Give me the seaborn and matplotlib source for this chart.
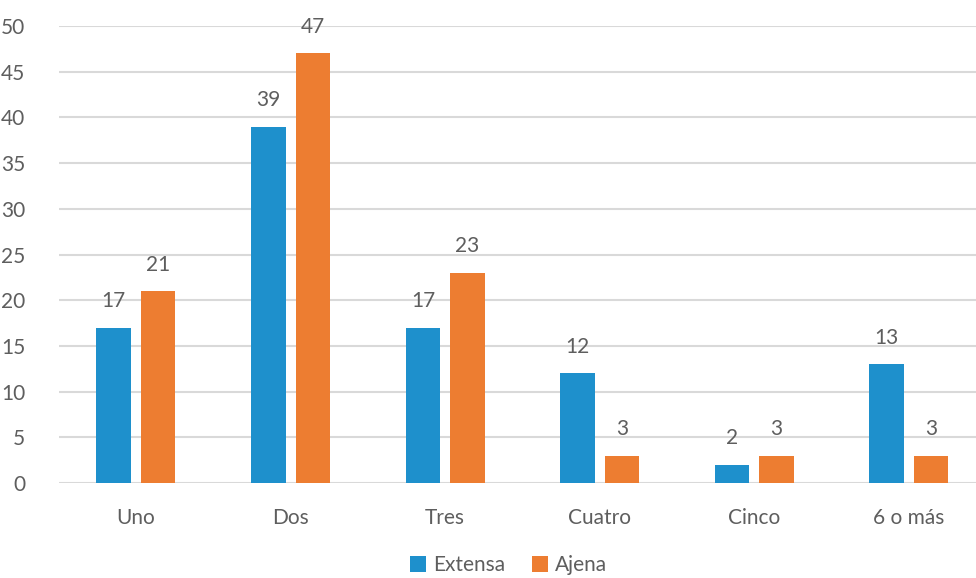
import matplotlib
matplotlib.use("Agg")
import matplotlib.pyplot as plt
import seaborn as sns
import pandas as pd
from matplotlib.lines import Line2D

categories = ["Uno", "Dos", "Tres", "Cuatro", "Cinco", "6 o más"]
extensa = [17, 39, 17, 12, 2, 13]
ajena = [21, 47, 23, 3, 3, 3]
series_names = ["Extensa", "Ajena"]
colors = ["#1E90CC", "#ED7D31"]
yticks = [0, 5, 10, 15, 20, 25, 30, 35, 40, 45, 50]

df = pd.DataFrame({
    "cat": categories * 2,
    "val": extensa + ajena,
    "serie": [series_names[0]] * len(categories) + [series_names[1]] * len(categories),
})

sns.set_theme(style="white")
plt.rcParams["font.family"] = ["Lato", "DejaVu Sans"]
txt = "#5E5E5E"

fig = plt.figure(figsize=(9.76, 5.78), dpi=100)
ax = fig.add_axes([0.0601, 0.164, 0.9504, 0.791])

sns.barplot(data=df, x="cat", y="val", hue="serie", order=categories,
            hue_order=series_names, palette=colors, width=0.576, gap=0.225,
            linewidth=0, saturation=1, ax=ax, legend=False)

ax.set_ylim(0, 50)
ax.set_yticks(yticks)
ax.set_xlim(-0.5, len(categories) - 0.5)
ax.yaxis.grid(True, color="#D9D9D9", linewidth=1.5)
ax.set_axisbelow(True)
for s in ax.spines.values():
    s.set_visible(False)
ax.tick_params(axis="both", length=0, labelsize=15, colors=txt, pad=18)
ax.tick_params(axis="y", pad=24)
ax.set_xlabel("")
ax.set_ylabel("")

for cont in ax.containers:
    labels = ax.bar_label(cont, padding=12, fontsize=15, color=txt)
    for l in labels:
        l.set_clip_on(False)

handles = [Line2D([0], [0], marker="s", linestyle="", markersize=11,
                  markerfacecolor=c, markeredgewidth=0) for c in colors]
leg = fig.legend(handles, series_names, loc="center", bbox_to_anchor=(0.52, 0.022),
                 ncol=2, frameon=False, fontsize=15, handletextpad=0.2,
                 columnspacing=1.2, handlelength=1.0)
for t in leg.get_texts():
    t.set_color(txt)

fig.savefig("out.png", dpi=100)
